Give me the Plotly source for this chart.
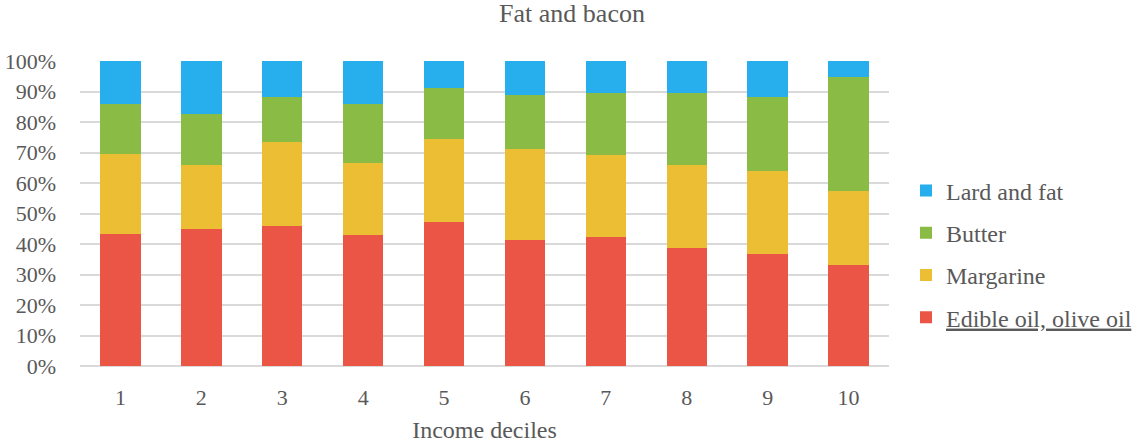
import plotly.graph_objects as go

deciles = ["1", "2", "3", "4", "5", "6", "7", "8", "9", "10"]
edible_oil = [43.2, 45.0, 46.0, 42.9, 47.3, 41.4, 42.3, 38.8, 36.8, 33.2]
margarine = [26.2, 20.8, 27.3, 23.6, 27.1, 29.7, 26.8, 27.1, 27.1, 24.1]
butter = [16.4, 16.7, 15.0, 19.4, 16.6, 17.8, 20.4, 23.6, 24.3, 37.4]
lard = [14.2, 17.5, 11.7, 14.1, 9.0, 11.1, 10.5, 10.5, 11.8, 5.3]
y_ticks = [0, 10, 20, 30, 40, 50, 60, 70, 80, 90, 100]
y_tick_labels = [f"{v}%" for v in y_ticks]

series = [
    ("<u>Edible oil, olive oil</u>", edible_oil, "#EB5546", 4),
    ("Margarine", margarine, "#EBBE34", 3),
    ("Butter", butter, "#8ABB45", 2),
    ("Lard and fat", lard, "#27AEEC", 1),
]

FONT = "Liberation Serif"
GREY = "#595959"

fig = go.Figure()
for i, (name, vals, col, rank) in enumerate(series):
    fig.add_trace(go.Bar(
        x=deciles, y=vals, name=name,
        marker=dict(color=col, line=dict(width=0)),
        legendgroup=f"g{i}", legendrank=rank,
    ))

fig.update_layout(
    barmode="stack",
    bargap=0.5,
    width=1134, height=443,
    margin=dict(l=80, r=245, t=61, b=77, autoexpand=False),
    paper_bgcolor="white", plot_bgcolor="white",
    font=dict(family=FONT, color=GREY, size=22),
    title=dict(text="Fat and bacon", x=572/1134, xref="container", xanchor="center",
               y=(443-13)/443, yref="container", yanchor="middle",
               font=dict(size=26, family=FONT, color=GREY)),
    legend=dict(x=(906-80)/809, xanchor="left", y=(366-254)/305, yanchor="middle",
                font=dict(size=24, family=FONT, color=GREY),
                traceorder="grouped", tracegroupgap=8,
                bgcolor="rgba(0,0,0,0)"),
    xaxis=dict(
        title=dict(text="Income deciles", font=dict(size=24, family=FONT, color=GREY), standoff=17),
        tickfont=dict(size=22, family=FONT, color=GREY),
        showgrid=False, showline=False, ticks="", ticklabelstandoff=16,
        automargin=False,
    ),
    yaxis=dict(
        range=[0, 100], tickmode="array", tickvals=y_ticks, ticktext=y_tick_labels,
        tickfont=dict(size=22, family=FONT, color=GREY),
        showgrid=True, gridcolor="#D9D9D9", gridwidth=1.5,
        zeroline=True, zerolinecolor="#D9D9D9", zerolinewidth=1.5,
        showline=False, ticks="", ticklabelstandoff=23,
        automargin=False,
    ),
)

fig.write_html("out.html")
